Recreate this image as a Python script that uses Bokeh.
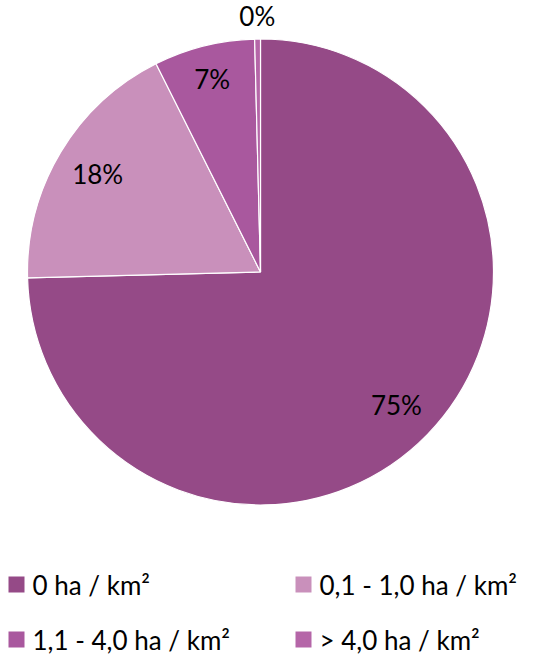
import math
from bokeh.plotting import figure
from bokeh.models import Range1d, ColumnDataSource
from bokeh.core.properties import value
from bokeh.embed import file_html
from bokeh.resources import INLINE

categories = ["0 ha / km²", "0,1 - 1,0 ha / km²", "1,1 - 4,0 ha / km²", "> 4,0 ha / km²"]
shares = [74.6, 18.0, 7.0, 0.4]
labels = ["75%", "18%", "7%", "0%"]
colors = ["#954A87", "#C990BB", "#A9589E", "#B566A8"]

W, H = 525, 654
FONT = "Lato"

p = figure(width=W, height=H, output_backend="svg", toolbar_location=None,
           x_range=Range1d(0, W), y_range=Range1d(0, H), min_border=0,
           outline_line_color=None)
p.axis.visible = False
p.grid.visible = False
p.background_fill_color = "white"
p.border_fill_color = "white"

cx, cy, r = 260, 382.5, 233
total = sum(shares)
starts, ends, lx, ly = [], [], [], []
acc = 0.0
for i, s in enumerate(shares):
    a0 = math.pi / 2 - 2 * math.pi * acc / total
    acc += s
    a1 = math.pi / 2 - 2 * math.pi * acc / total
    starts.append(a0)
    ends.append(a1)
    mid = (a0 + a1) / 2
    if s > 10:
        rf = 0.815
    elif s > 1:
        rf = 0.855
    else:
        rf = 1.097
    lx.append(cx + rf * r * math.cos(mid))
    ly.append(cy + rf * r * math.sin(mid))

src = ColumnDataSource(dict(start=starts, end=ends, color=colors, lx=lx, ly=ly, lab=labels))
p.wedge(x=cx, y=cy, radius=r, start_angle="start", end_angle="end", direction="clock",
        fill_color="color", line_color="white", line_width=1.2, source=src)
p.text(x="lx", y="ly", text="lab", source=src, text_font=value(FONT), text_font_size="26px",
       text_align="center", text_baseline="middle", text_color="#000000")

# legend
leg_x = [8, 295, 8, 295]
leg_y = [70, 70, 15, 15]
lsrc = ColumnDataSource(dict(x=[x + 8 for x in leg_x], y=leg_y, tx=[x + 24 for x in leg_x],
                             c=colors, t=categories))
p.rect(x="x", y="y", width=16, height=16, fill_color="c", line_color=None, source=lsrc)
p.text(x="tx", y="y", text="t", source=lsrc, text_font=value(FONT), text_font_size="26px",
       text_align="left", text_baseline="middle", text_color="#000000")

open("out.html", "w").write(file_html(p, INLINE))
